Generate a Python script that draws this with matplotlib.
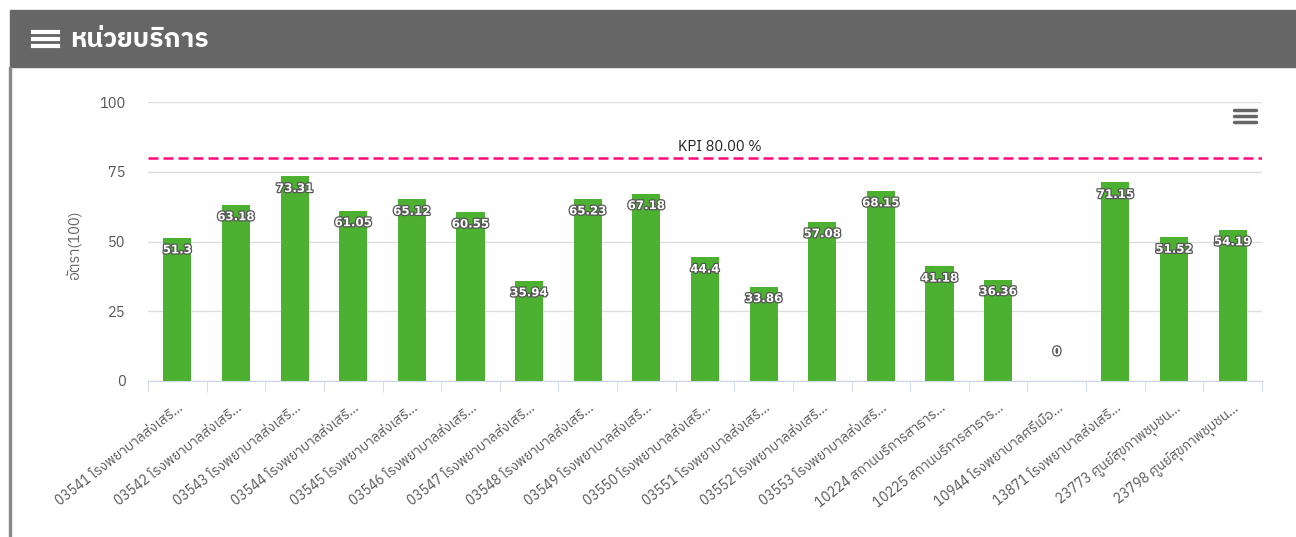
import matplotlib
matplotlib.use('agg')
import matplotlib.pyplot as plt
import matplotlib.patheffects as pe
from matplotlib import font_manager
import numpy as np

codes = ['03541', '03542', '03543', '03544', '03545', '03546', '03547', '03548',
         '03549', '03550', '03551', '03552', '03553', '10224', '10225', '10944',
         '13871', '23773', '23798']
names_th = ['โรงพยาบาลส่งเสริ...'] * 13 + ['สถานบริการสาธาร...', 'สถานบริการสาธาร...',
            'โรงพยาบาลศรีเมือ...', 'โรงพยาบาลส่งเสริ...', 'ศูนย์สุขภาพชุมชน...',
            'ศูนย์สุขภาพชุมชน...']
values = [51.3, 63.18, 73.31, 61.05, 65.12, 60.55, 35.94, 65.23, 67.18, 44.4,
          33.86, 57.08, 68.15, 41.18, 36.36, 0, 71.15, 51.52, 54.19]
kpi = 80.0

installed = sorted({f.name for f in font_manager.fontManager.ttflist})
thai_fonts = [n for n in installed if 'Thai' in n]
plt.rcParams['font.family'] = thai_fonts + ['Noto Sans', 'DejaVu Sans']

fig = plt.figure(figsize=(12.96, 5.37), dpi=100)
W, H = 1296, 537

# header bar + panel border
fig.patches.append(plt.Rectangle((10 / W, 1 - 67 / H), 1, 57 / H, transform=fig.transFigure,
                                 color='#666666', zorder=0))
fig.patches.append(plt.Rectangle((9 / W, 0), 2 / W, 1 - 67 / H, transform=fig.transFigure,
                                 color='#888888', zorder=0))
fig.text(70 / W, 1 - 40 / H, 'หน่วยบริการ', color='white', fontsize=19, fontweight='bold',
         va='center', ha='left')
for dy in (-7, 0, 7):
    fig.lines.append(plt.Line2D([33 / W, 58 / W], [1 - (39 + dy) / H] * 2,
                                transform=fig.transFigure, color='white', lw=3))
# export menu icon
for dy in (-6, 0, 6):
    fig.lines.append(plt.Line2D([1234 / W, 1256 / W], [1 - (116 + dy) / H] * 2,
                                transform=fig.transFigure, color='#666666', lw=2.5,
                                solid_capstyle='round'))

ax = fig.add_axes([148 / W, 1 - 381 / H, (1262 - 148) / W, (381 - 102) / H])
x = np.arange(len(values))
ax.bar(x, values, width=0.48, color='#4cb131', zorder=2)
ax.set_xlim(-0.5, len(values) - 0.5)
ax.set_ylim(0, 100)
ax.set_yticks([0, 25, 50, 75, 100])
ax.grid(axis='y', color='#dddddd', lw=1, zorder=0)
ax.tick_params(axis='y', length=0, pad=16, labelcolor='#555555', labelsize=10.5)
for s in ['top', 'right', 'left']:
    ax.spines[s].set_visible(False)
ax.spines['bottom'].set_color('#ccd6eb')
ax.set_xticks(np.arange(len(values) + 1) - 0.5, minor=True)
ax.set_xticks(x)
ax.tick_params(axis='x', which='minor', length=8, color='#ccd6eb')
ax.tick_params(axis='x', which='major', length=0, pad=14)
ax.set_xticklabels([c + ' ' + n for c, n in zip(codes, names_th)], rotation=38,
                   ha='right', rotation_mode='anchor', fontsize=9.8, color='#555555')
ax.set_ylabel('อัตรา(100)', color='#666666', fontsize=10.5)
ax.yaxis.set_label_coords(-0.06, 0.487)

ax.axhline(kpi, color='#ff0a78', lw=1.8, ls=(0, (4, 2)), zorder=3)
ax.text(9.26, kpi + 1.3, 'KPI %.2f %%' % kpi, ha='center', va='bottom',
        fontsize=10.5, color='#222222')

for xi, v in zip(x, values):
    lbl = '%g' % v
    y = v - 4.3 if v > 5 else v + 10.5
    ax.text(xi, y, lbl, ha='center', va='center', color='white', fontsize=8.5,
            fontweight='bold', family='DejaVu Sans', zorder=4,
            path_effects=[pe.withStroke(linewidth=1.8, foreground='#555555')])

fig.savefig('out.png', dpi=100)
